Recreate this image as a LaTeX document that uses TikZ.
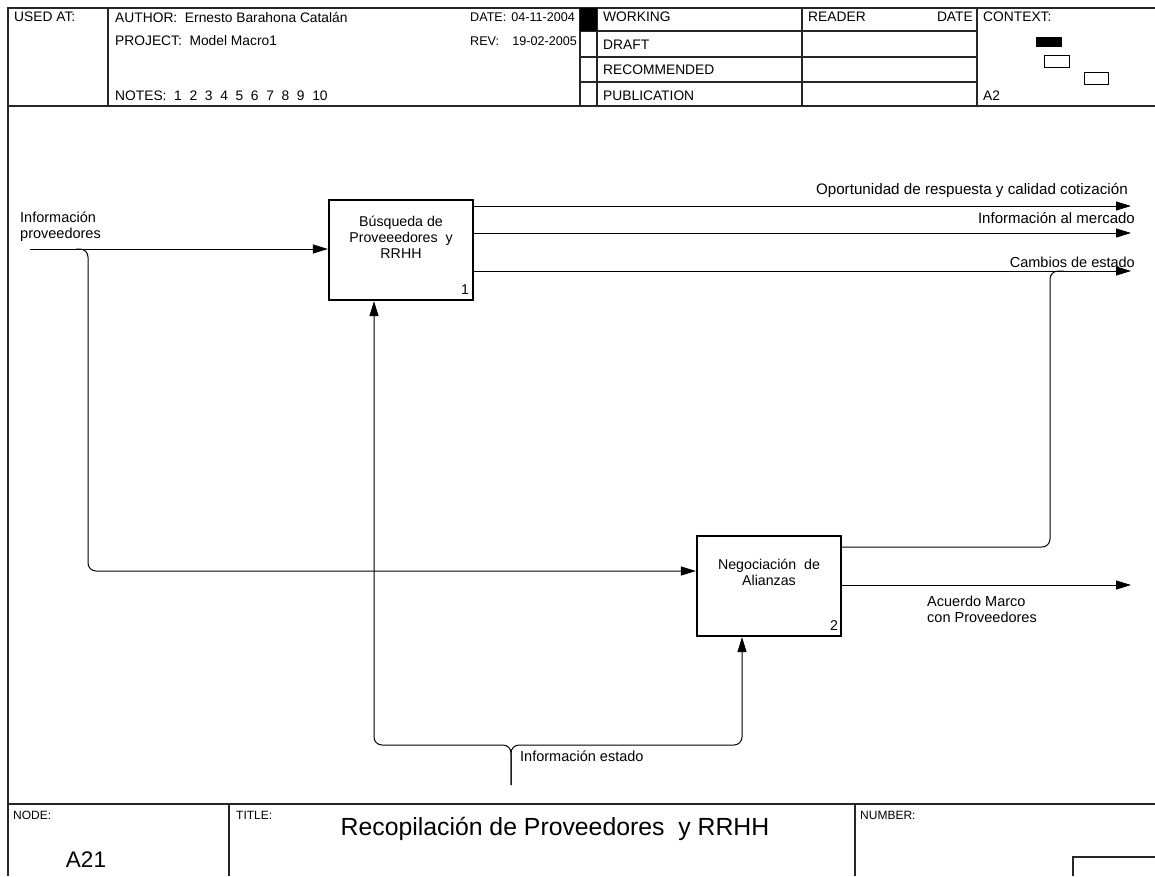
\documentclass[tikz,border=0pt]{standalone}
\usepackage{fontspec}
\setmainfont{Liberation Sans}
\usetikzlibrary{arrows.meta}
\begin{document}
\begin{tikzpicture}[x=1pt,y=-1pt,
  frame/.style={line width=1.3pt,draw=black!85},
  txt/.style={anchor=west,inner sep=0pt,font=\fontsize{13.8}{16}\selectfont},
  lbl/.style={anchor=west,inner sep=0pt,font=\fontsize{14.5}{16}\selectfont},
  small/.style={anchor=west,inner sep=0pt,font=\fontsize{12}{14}\selectfont},
  proc/.style={draw,line width=2.2pt,minimum width=144pt,minimum height=100pt,inner sep=0pt},
  boxtxt/.style={inner sep=0pt,align=center,font=\fontsize{14.2}{16}\selectfont},
  flow/.style={line width=1pt,rounded corners=8pt},
  arr/.style={flow,-{Triangle[length=15pt,width=9pt]}}]
\useasboundingbox (0,0) rectangle (1155,876);
\fill[white] (0,0) rectangle (1155,876);

% --- outer frame and header grid ---
\draw[frame] (1155,8) -- (8,8) -- (8,876);
\draw[frame] (8,106) -- (1155,106);
\draw[frame] (108,8) -- (108,106);
\draw[frame] (580,8) -- (580,106);
\draw[frame] (597,8) -- (597,106);
\draw[frame] (802,8) -- (802,106);
\draw[frame] (977,8) -- (977,106);
\foreach \yy in {31,57,82} \draw[frame] (580,\yy) -- (977,\yy);
\fill[black] (580,8) rectangle (597,31);

% header texts
\node[txt] (usedat) at (14,17) {USED AT:};
\node[txt] (author) at (115,17) {AUTHOR:\ \ Ernesto Barahona Catalán};
\node[txt] (project) at (115,41) {PROJECT:\ \ Model Macro1};
\node[txt] (notes) at (115,96) {NOTES:\ \ 1\ \ 2\ \ 3\ \ 4\ \ 5\ \ 6\ \ 7\ \ 8\ \ 9\ \ 10};
\node[txt,font=\fontsize{12.6}{15}\selectfont] (date) at (470,17) {DATE:\hspace{0.4em}04-11-2004};
\node[txt,font=\fontsize{12.6}{15}\selectfont] (rev) at (470,41) {REV:\hspace{1.05em}19-02-2005};
\node[txt] (working) at (603,17) {WORKING};
\node[txt] (draft) at (603,45) {DRAFT};
\node[txt] (recom) at (603,70) {RECOMMENDED};
\node[txt] (public) at (603,96) {PUBLICATION};
\node[txt] (reader) at (808,17) {READER};
\node[txt,anchor=east] (rdate) at (973,17) {DATE};
\node[txt] (context) at (983,17) {CONTEXT:};
\node[txt] (ctxnode) at (983,96) {A2};

% context sketch
\fill[black] (1036,37) rectangle (1062,47);
\draw[line width=0.9pt] (1044,55) rectangle (1069,67);
\draw[line width=0.9pt] (1084,72) rectangle (1108,84);

% --- activity boxes ---
\node[proc] (b1) at (401,250) {};
\node[boxtxt] (b1t) at ([yshift=-38pt]b1.north) {Búsqueda de\\Proveeedores\ \ y\\RRHH};
\node[boxtxt,anchor=south east] (b1n) at ([xshift=-5pt,yshift=6pt]b1.south east) {1};

\node[proc] (b2) at (769,586) {};
\node[boxtxt] (b2t) at ([yshift=-37pt]b2.north) {Negociación\ \ de\\Alianzas};
\node[boxtxt,anchor=south east] (b2n) at ([xshift=-4pt,yshift=6pt]b2.south east) {2};

% --- input ---
\coordinate (in1) at (30,249);
\coordinate (in1b) at (76,249);
\draw[arr] (in1) -- (in1 -| b1.west);
\draw[arr] (in1b) -- (88,249) -- (88,571) -- (b2.west |- 0,571);
\node[lbl] (inlbl) at (20,227) {\begin{tabular}{@{}l@{}}Información\\proveedores\end{tabular}};

% --- outputs of box 1 ---
\coordinate (o1) at (1131,206);
\coordinate (o2) at (1131,233);
\coordinate (o3) at (1131,271);
\draw[arr] (b1.east |- o1) -- (o1);
\draw[arr] (b1.east |- o2) -- (o2);
\draw[arr] (b1.east |- o3) -- (o3);
\node[lbl,anchor=east,font=\fontsize{15.2}{17}\selectfont] (l1) at (1128,190) {Oportunidad de respuesta y calidad cotización};
\node[lbl,anchor=east,font=\fontsize{15}{17}\selectfont] (l2) at (1135,218) {Información al mercado};
\node[lbl,anchor=east] (l3) at (1135,262) {Cambios de estado};

% --- outputs of box 2 ---
\coordinate (fb) at (1064,271);
\draw[flow] (b2.east |- 0,547) -- (1050,547) -- (1050,271) -- (fb);
\coordinate (o4) at (1131,585);
\draw[arr] (b2.east |- o4) -- (o4);
\node[lbl] (l4) at (927,611) {\begin{tabular}{@{}l@{}}Acuerdo Marco\\con Proveedores\end{tabular}};

% --- mechanism from below ---
\coordinate (mech) at (511,785);
\draw[arr] (mech) -- (511,745) -- (374,745) -- (b1.south -| 374,0);
\draw[arr] (mech) -- (511,745) -- (742,745) -- (b2.south -| 742,0);
\node[lbl] (l5) at (520,756) {Información estado};

% --- footer ---
\draw[frame] (8,804) -- (1155,804);
\draw[frame] (229,804) -- (229,876);
\draw[frame] (855,804) -- (855,876);
\draw[frame] (1073,876) -- (1073,857) -- (1155,857);
\node[small] (nodelbl) at (13,815) {NODE:};
\node[small] (titlelbl) at (236,815) {TITLE:};
\node[small] (numlbl) at (860,815) {NUMBER:};
\node[inner sep=0pt,font=\fontsize{22.5}{26}\selectfont] (nodeval) at (86,860) {A21};
\node[inner sep=0pt,font=\fontsize{24.8}{28}\selectfont] (title) at (555,829) {Recopilación de Proveedores\ \ y RRHH};
\end{tikzpicture}
\end{document}
